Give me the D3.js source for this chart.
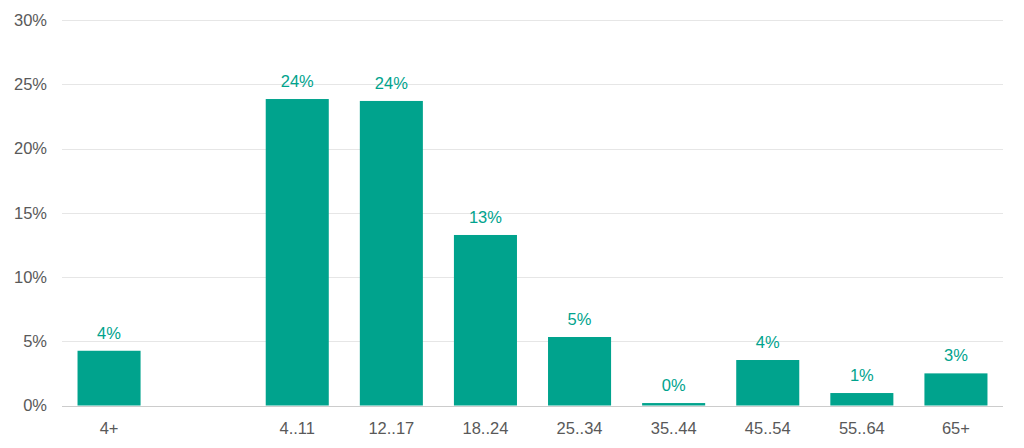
<!DOCTYPE html>
<html>
<head>
<meta charset="utf-8">
<script src="https://cdn.jsdelivr.net/npm/d3@7"></script>
<style>
  body { margin: 0; background: #fff; }
  svg text { font-family: "Liberation Sans", Arial, sans-serif; }
</style>
</head>
<body>
<script>
var width = 1024
var height = 448

// age groups (one empty slot between "4+" and "4..11")
var categories = ["4+", "", "4..11", "12..17", "18..24", "25..34", "35..44", "45..54", "55..64", "65+"]
var values = [4.26, null, 23.85, 23.7, 13.27, 5.33, 0.19, 3.54, 0.97, 2.5]
var labels = ["4%", "", "24%", "24%", "13%", "5%", "0%", "4%", "1%", "3%"]
var yTicks = [0, 5, 10, 15, 20, 25, 30]

var margin = {top: 20, right: 21, bottom: 42.5, left: 62}

var svg = d3.select("body")
	.append("svg")
	.attr("width", width)
	.attr("height", height)

var x = d3.scaleBand()
	.domain(d3.range(categories.length))
	.range([margin.left, width - margin.right])
	.paddingInner(0.33)
	.paddingOuter(0.165)

var y = d3.scaleLinear()
	.domain([0, 30])
	.range([height - margin.bottom, margin.top])

// gridlines
svg.append("g")
	.selectAll("line")
	.data(yTicks.slice(1))
	.enter()
	.append("line")
	.attr("x1", margin.left)
	.attr("x2", width - margin.right)
	.attr("y1", d => Math.round(y(d)) + 0.5)
	.attr("y2", d => Math.round(y(d)) + 0.5)
	.style("stroke", "#e6e6e6")
	.style("stroke-width", 1)

// y axis labels
var yAxis = d3.axisLeft(y).tickValues(yTicks).tickFormat(d => d + "%").tickSize(0).tickPadding(15)
svg.append("g")
	.attr("transform", "translate(" + margin.left + ",0)")
	.call(yAxis)
	.call(g => g.select(".domain").remove())
	.selectAll("text")
	.style("font-size", "16.5px")
	.style("fill", "#595959")

// bars
svg.append("g")
	.selectAll("rect")
	.data(values)
	.enter()
	.filter(d => d != null)
	.append("rect")
	.attr("x", (d, i) => x(values.indexOf(d)))
	.attr("width", x.bandwidth())
	.attr("y", d => y(d))
	.attr("height", d => y(0) - y(d))
	.style("fill", "#00a38d")

// value labels
svg.append("g")
	.selectAll("text")
	.data(values)
	.enter()
	.append("text")
	.attr("x", (d, i) => x(i) + x.bandwidth() / 2)
	.attr("y", d => d == null ? 0 : y(d) - 12)
	.attr("text-anchor", "middle")
	.style("font-size", "16.5px")
	.style("fill", "#00a38d")
	.text((d, i) => labels[i])

// baseline
svg.append("line")
	.attr("x1", margin.left)
	.attr("x2", width - margin.right)
	.attr("y1", Math.round(y(0)) + 0.5)
	.attr("y2", Math.round(y(0)) + 0.5)
	.style("stroke", "#cccccc")

// x axis labels
svg.append("g")
	.selectAll("text")
	.data(categories)
	.enter()
	.append("text")
	.attr("x", (d, i) => x(i) + x.bandwidth() / 2)
	.attr("y", y(0) + 28)
	.attr("text-anchor", "middle")
	.style("font-size", "16.5px")
	.style("fill", "#595959")
	.text(d => d)
</script>
</body>
</html>
